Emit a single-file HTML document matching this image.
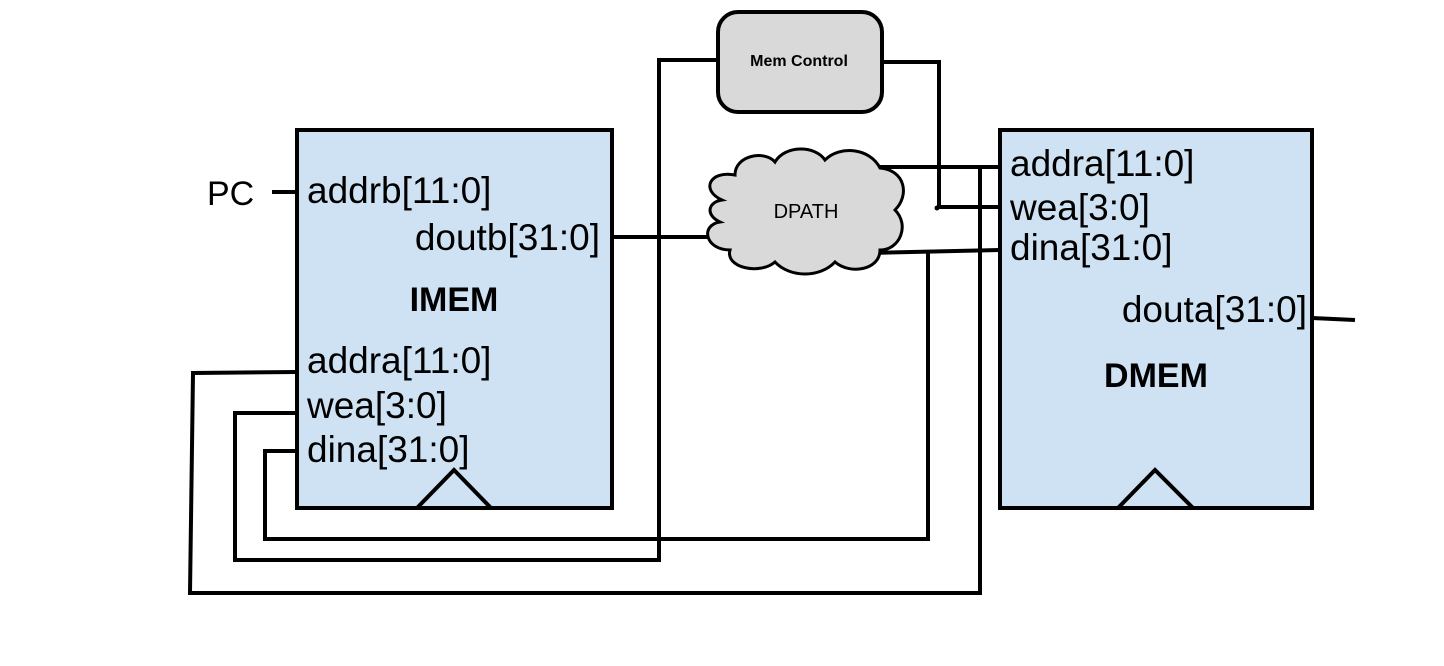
<!DOCTYPE html>
<html><head><style>html,body{margin:0;padding:0;background:#fff}svg{display:block}</style></head>
<body>
<svg width="1444" height="666" viewBox="0 0 1444 666" xmlns="http://www.w3.org/2000/svg" font-family="Liberation Sans, Arial, sans-serif">
<rect width="1444" height="666" fill="#fff"/>
<g stroke="#000" stroke-width="4" fill="none">
<line x1="272" y1="192" x2="297" y2="192"/>
<line x1="612" y1="237" x2="712" y2="237"/>
<polyline points="718,60 659,60 659,560 235,560 235,413 297,413"/>
<polyline points="882,62 939,62 939,207 1000,207"/>
<polyline points="880,167 1000,167"/>
<polyline points="980,167 980,593 190,593 193,373 297,372"/>
<polyline points="870,253 1000,250"/>
<polyline points="928,253 928,539 265,539 265,451 297,451"/>
<line x1="1312" y1="318" x2="1355" y2="320"/>
</g>
<rect x="297" y="130" width="315" height="378" fill="#cfe2f3" stroke="#000" stroke-width="4"/>
<polygon points="417,508 454,470 491,508" fill="#cfe2f3" stroke="#000" stroke-width="4"/>
<rect x="1000" y="130" width="312" height="378" fill="#cfe2f3" stroke="#000" stroke-width="4"/>
<polygon points="1118,508 1155,470 1193,508" fill="#cfe2f3" stroke="#000" stroke-width="4"/>
<rect x="718" y="12" width="164" height="100" rx="20" fill="#d9d9d9" stroke="#000" stroke-width="4"/>
<text x="799" y="66" font-size="16" font-weight="bold" text-anchor="middle">Mem Control</text>
<path d="M722,200 C700,190 710,170 735,175 C735,155 765,150 775,162 C785,145 815,145 825,160 C840,145 870,148 880,168 C905,170 910,195 895,210 C910,225 900,250 880,250 C880,270 850,275 835,262 C820,278 790,278 775,262 C760,275 725,268 730,250 C705,250 700,225 720,222 C705,215 708,202 722,200 Z" fill="#d9d9d9" stroke="#000" stroke-width="3"/>
<text x="806" y="218" font-size="20" text-anchor="middle">DPATH</text>
<g font-size="37" fill="#000">
<text x="207" y="205" font-size="34">PC</text>
<text x="307" y="203">addrb[11:0]</text>
<text x="600" y="250" text-anchor="end">doutb[31:0]</text>
<text x="307" y="373">addra[11:0]</text>
<text x="307" y="418">wea[3:0]</text>
<text x="307" y="462">dina[31:0]</text>
<text x="1010" y="176">addra[11:0]</text>
<text x="1010" y="220">wea[3:0]</text>
<text x="1010" y="260">dina[31:0]</text>
<text x="1307" y="322" text-anchor="end">douta[31:0]</text>
</g>
<text x="454" y="311" font-size="34" font-weight="bold" text-anchor="middle">IMEM</text>
<text x="1156" y="387" font-size="34" font-weight="bold" text-anchor="middle">DMEM</text>
<circle cx="937" cy="208" r="2.5" fill="#000"/>
</svg>
</body></html>
